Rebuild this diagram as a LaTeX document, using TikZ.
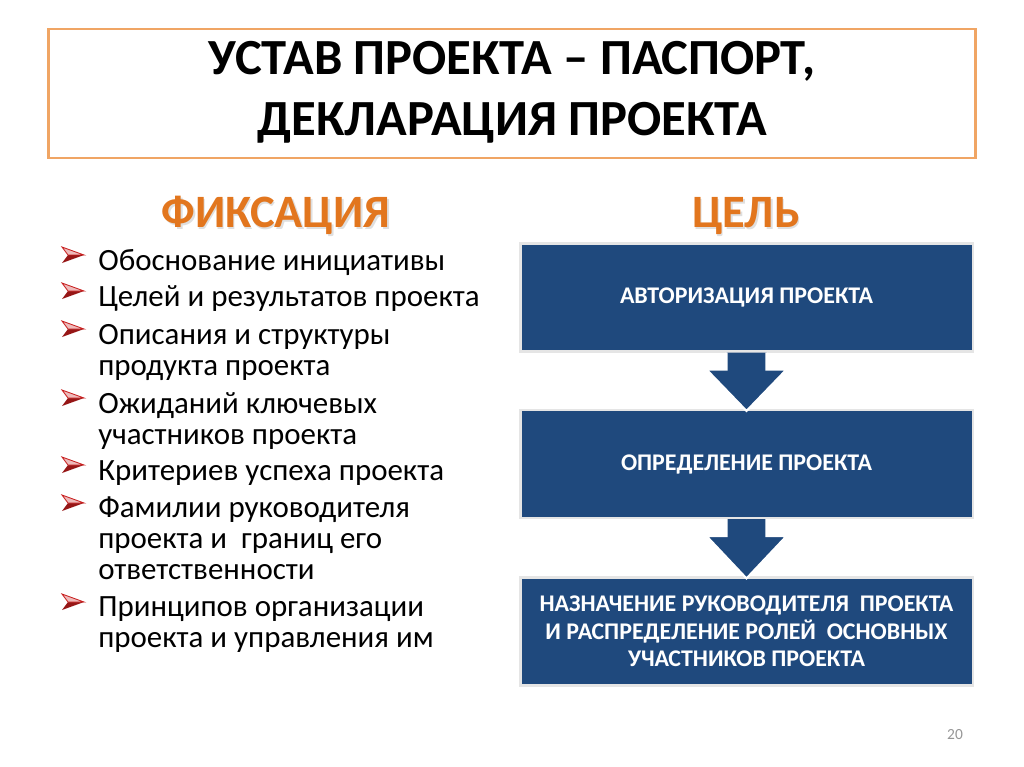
\documentclass[tikz,border=0pt]{standalone}
\usepackage{fontspec}
\setmainfont{Carlito}
\usepackage{tikz}
\usetikzlibrary{positioning, calc}
\definecolor{frameorange}{RGB}{240,165,100}
\definecolor{headorange}{RGB}{226,118,30}
\definecolor{boxblue}{RGB}{31,73,125}
\definecolor{markred}{RGB}{200,30,30}
\definecolor{pagegray}{RGB}{150,150,150}

\begin{document}
\begin{tikzpicture}[
    x=0.025cm, y=-0.025cm,
    titlebox/.style={rectangle, draw=frameorange, line width=2pt, minimum width=23.15cm, minimum height=3.22cm},
    titletext/.style={anchor=base, inner sep=0pt, align=center, font=\fontsize{36}{41}\selectfont\bfseries},
    head/.style={font=\fontsize{33}{36}\selectfont\bfseries, text=headorange, anchor=base, inner sep=0pt},
    headshadow/.style={font=\fontsize{33}{36}\selectfont\bfseries, text=gray!25, anchor=base, inner sep=0pt},
    item/.style={anchor=base west, inner sep=0pt, align=left, font=\fontsize{22}{22}\selectfont},
    goalbox/.style={rectangle, draw=gray!20, line width=1.5pt, fill=boxblue, minimum width=11.3cm, minimum height=2.7cm, text=white, align=center, font=\fontsize{17}{19.5}\selectfont\bfseries},
    downarr/.style={fill=boxblue, draw=white, line width=1.5pt},
    markup/.style={fill=markred!30!white, draw=markred, line width=0.6pt},
    marklow/.style={fill=markred!75!black},
]
\useasboundingbox (0,0) rectangle (1024,767);

% Title (text at the baseline of its last line)
\node[titlebox] (frame) at (512,93.5) {};
\node[titletext] (title) at (512,136) {УСТАВ ПРОЕКТА – ПАСПОРТ,\\[2.5pt]ДЕКЛАРАЦИЯ ПРОЕКТА};

% Headings
\node[headshadow] (hfixs) at (277.5,229.5) {ФИКСАЦИЯ};
\node[head] (hfix) at (276,228) {ФИКСАЦИЯ};
\node[headshadow] (hgoals) at (747.5,229.5) {ЦЕЛЬ};
\node[head] (hgoal) at (746,228) {ЦЕЛЬ};

% Items (placed at the baseline of their last line)
\node[item] (i1) at (98,270) {Обоснование инициативы};
\node[item] (i2) at (98,306) {Целей и результатов проекта};
\node[item] (i3) at (98,375) {Описания и структуры\\продукта проекта};
\node[item] (i4) at (98,444) {Ожиданий ключевых\\участников проекта};
\node[item] (i5) at (98,480) {Критериев успеха проекта};
\node[item] (i6) at (98,579) {Фамилии руководителя\\проекта и~ границ его\\ответственности};
\node[item] (i7) at (98,647) {Принципов организации\\проекта и управления им};

% Bullet markers, at the first line of each item
\foreach \y in {270,306,344,413,480,518,617} {
  \begin{scope}[shift={(98,\y)}]
    \fill[marklow] (-30,-15) -- (-14,-15) -- (-36,-7) -- cycle;
    \filldraw[markup] (-36,-23) -- (-14,-15) -- (-30,-15) -- cycle;
  \end{scope}
}

% Goal boxes
\node[goalbox] (b1) at (746.5,297.5) {АВТОРИЗАЦИЯ ПРОЕКТА};
\node[goalbox] (b2) at (746.5,464) {ОПРЕДЕЛЕНИЕ ПРОЕКТА};
\node[goalbox] (b3) at (746.5,631.5) {НАЗНАЧЕНИЕ РУКОВОДИТЕЛЯ~ ПРОЕКТА\\И РАСПРЕДЕЛЕНИЕ РОЛЕЙ~ ОСНОВНЫХ\\УЧАСТНИКОВ ПРОЕКТА};

% Block arrows
\draw[downarr] ($(b1.south)+(-20,0)$) -- ++(0,17) -- ++(-20,0) -- ($(b2.north)+(0,2)$) -- ($(b1.south)+(40,17)$) -- ++(-20,0) -- ++(0,-17);
\draw[downarr] ($(b2.south)+(-20,0)$) -- ++(0,17) -- ++(-20,0) -- ($(b3.north)+(0,2)$) -- ($(b2.south)+(40,17)$) -- ++(-20,0) -- ++(0,-17);

% Page number
\node[font=\fontsize{11}{13}\selectfont, text=pagegray] (page) at (955,735) {20};

\end{tikzpicture}
\end{document}
